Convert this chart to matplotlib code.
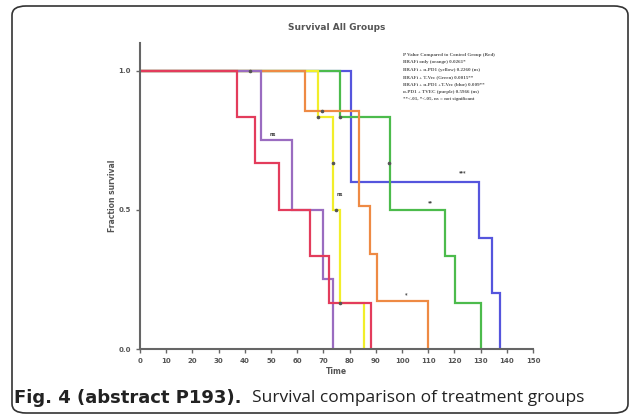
import matplotlib
matplotlib.use("Agg")
import matplotlib.pyplot as plt
from matplotlib.patches import FancyBboxPatch

# ---- data ----
red_t = [0, 37, 44, 53, 65, 72, 88]
red_s = [1.0, 0.833, 0.667, 0.5, 0.333, 0.167, 0.0]
purple_t = [0, 46, 58, 70, 73.5]
purple_s = [1.0, 0.75, 0.5, 0.25, 0.0]
yellow_t = [0, 68, 73.5, 76.3, 85.5]
yellow_s = [1.0, 0.833, 0.5, 0.167, 0.0]
orange_t = [0, 63, 83.6, 87.7, 90.6, 110]
orange_s = [1.0, 0.857, 0.514, 0.343, 0.171, 0.0]
green_t = [0, 76.5, 95.5, 116.6, 120.4, 130]
green_s = [1.0, 0.833, 0.5, 0.333, 0.167, 0.0]
blue_t = [0, 80.7, 129.3, 134.3, 137.5]
blue_s = [1.0, 0.6, 0.4, 0.2, 0.0]

censor_t = [41.8, 69.6, 67.8, 73.5, 74.8, 76.5, 95.0, 76.3]
censor_s = [1.0, 0.857, 0.833, 0.667, 0.5, 0.833, 0.667, 0.167]

sig_labels = ["ns", "ns", "*", "**", "***"]
sig_t = [50.7, 76.3, 101.4, 110.9, 123.2]
sig_s = [0.762, 0.547, 0.186, 0.516, 0.624]

legend_lines = [
    "P Value Compared to Control Group (Red)",
    "BRAFi only (orange) 0.0261*",
    "BRAFi + \u03b1-PD1 (yellow) 0.2260 (ns)",
    "BRAFi + T-Vec (Green) 0.0015**",
    "BRAFi + \u03b1-PD1 +T-Vec (blue) 0.009**",
    "\u03b1-PD1 + TVEC (purple) 0.5966 (ns)",
    "**<.01, *<.05, ns = not significant",
]

x_ticks = list(range(0, 151, 10))
y_ticks = [0.0, 0.5, 1.0]

# ---- figure ----
fig = plt.figure(figsize=(6.37, 4.16), dpi=100)
W, H = 637, 416

box = FancyBboxPatch((12 / W, 3 / H), 616 / W, 407 / H,
                     boxstyle="round,pad=0,rounding_size=0.022",
                     transform=fig.transFigure, fill=False,
                     edgecolor="#333333", linewidth=1.2)
fig.patches.append(box)

ax = fig.add_axes([140 / W, 1 - 349 / H, (533 - 140) / W, (349 - 43) / H])

series = [
    (blue_t, blue_s, "#5555dd"),
    (green_t, green_s, "#4cbb4c"),
    (yellow_t, yellow_s, "#f2ee2a"),
    (orange_t, orange_s, "#ee8a44"),
    (purple_t, purple_s, "#9a6cc0"),
    (red_t, red_s, "#e33c5c"),
]
for t, s, c in series:
    ax.step(t, s, where="post", color=c, linewidth=1.6, solid_joinstyle="miter")

ax.plot(censor_t, censor_s, linestyle="none", marker="o", markersize=1.6,
        color="#555555")

for lab, t, s in zip(sig_labels, sig_t, sig_s):
    ax.text(t, s, lab, fontsize=3.5, color="#444444", ha="center", va="bottom",
            fontweight="bold")

ax.set_xlim(0, 150)
ax.set_ylim(0, 1.1)
ax.set_xticks(x_ticks)
ax.set_yticks(y_ticks)
ax.set_xticklabels([str(v) for v in x_ticks])
ax.set_yticklabels([f"{v:.1f}" for v in y_ticks])
for sp in ["top", "right"]:
    ax.spines[sp].set_visible(False)
for sp in ["left", "bottom"]:
    ax.spines[sp].set_color("#666666")
    ax.spines[sp].set_linewidth(1.5)
ax.tick_params(axis="both", colors="#666666", labelcolor="#555555",
               labelsize=5, length=3, width=1)
for lbl in ax.get_xticklabels() + ax.get_yticklabels():
    lbl.set_fontweight("bold")

ax.set_xlabel("Time", fontsize=5.5, fontweight="bold", color="#555555", labelpad=2)
ax.set_ylabel("Fraction survival", fontsize=5.5, fontweight="bold",
              color="#555555", labelpad=1)

fig.text(337 / W, 1 - 27 / H, "Survival All Groups", ha="center", va="center",
         fontsize=6.5, fontweight="bold", color="#555555")

for i, line in enumerate(legend_lines):
    fig.text(403 / W, 1 - (55 + i * 7.3) / H, line, ha="left", va="center",
             fontsize=3.6, family="Liberation Serif", fontweight="bold",
             color="#555555")

fig.text(14 / W, 1 - 398 / H, "Fig. 4 (abstract P193).", ha="left", va="center",
         fontsize=13, fontweight="bold", family="DejaVu Sans", color="#222222")
fig.text(252 / W, 1 - 398 / H, "Survival comparison of treatment groups",
         ha="left", va="center", fontsize=12.5, family="Open Sans",
         color="#222222")

fig.savefig("out.png", dpi=100)
